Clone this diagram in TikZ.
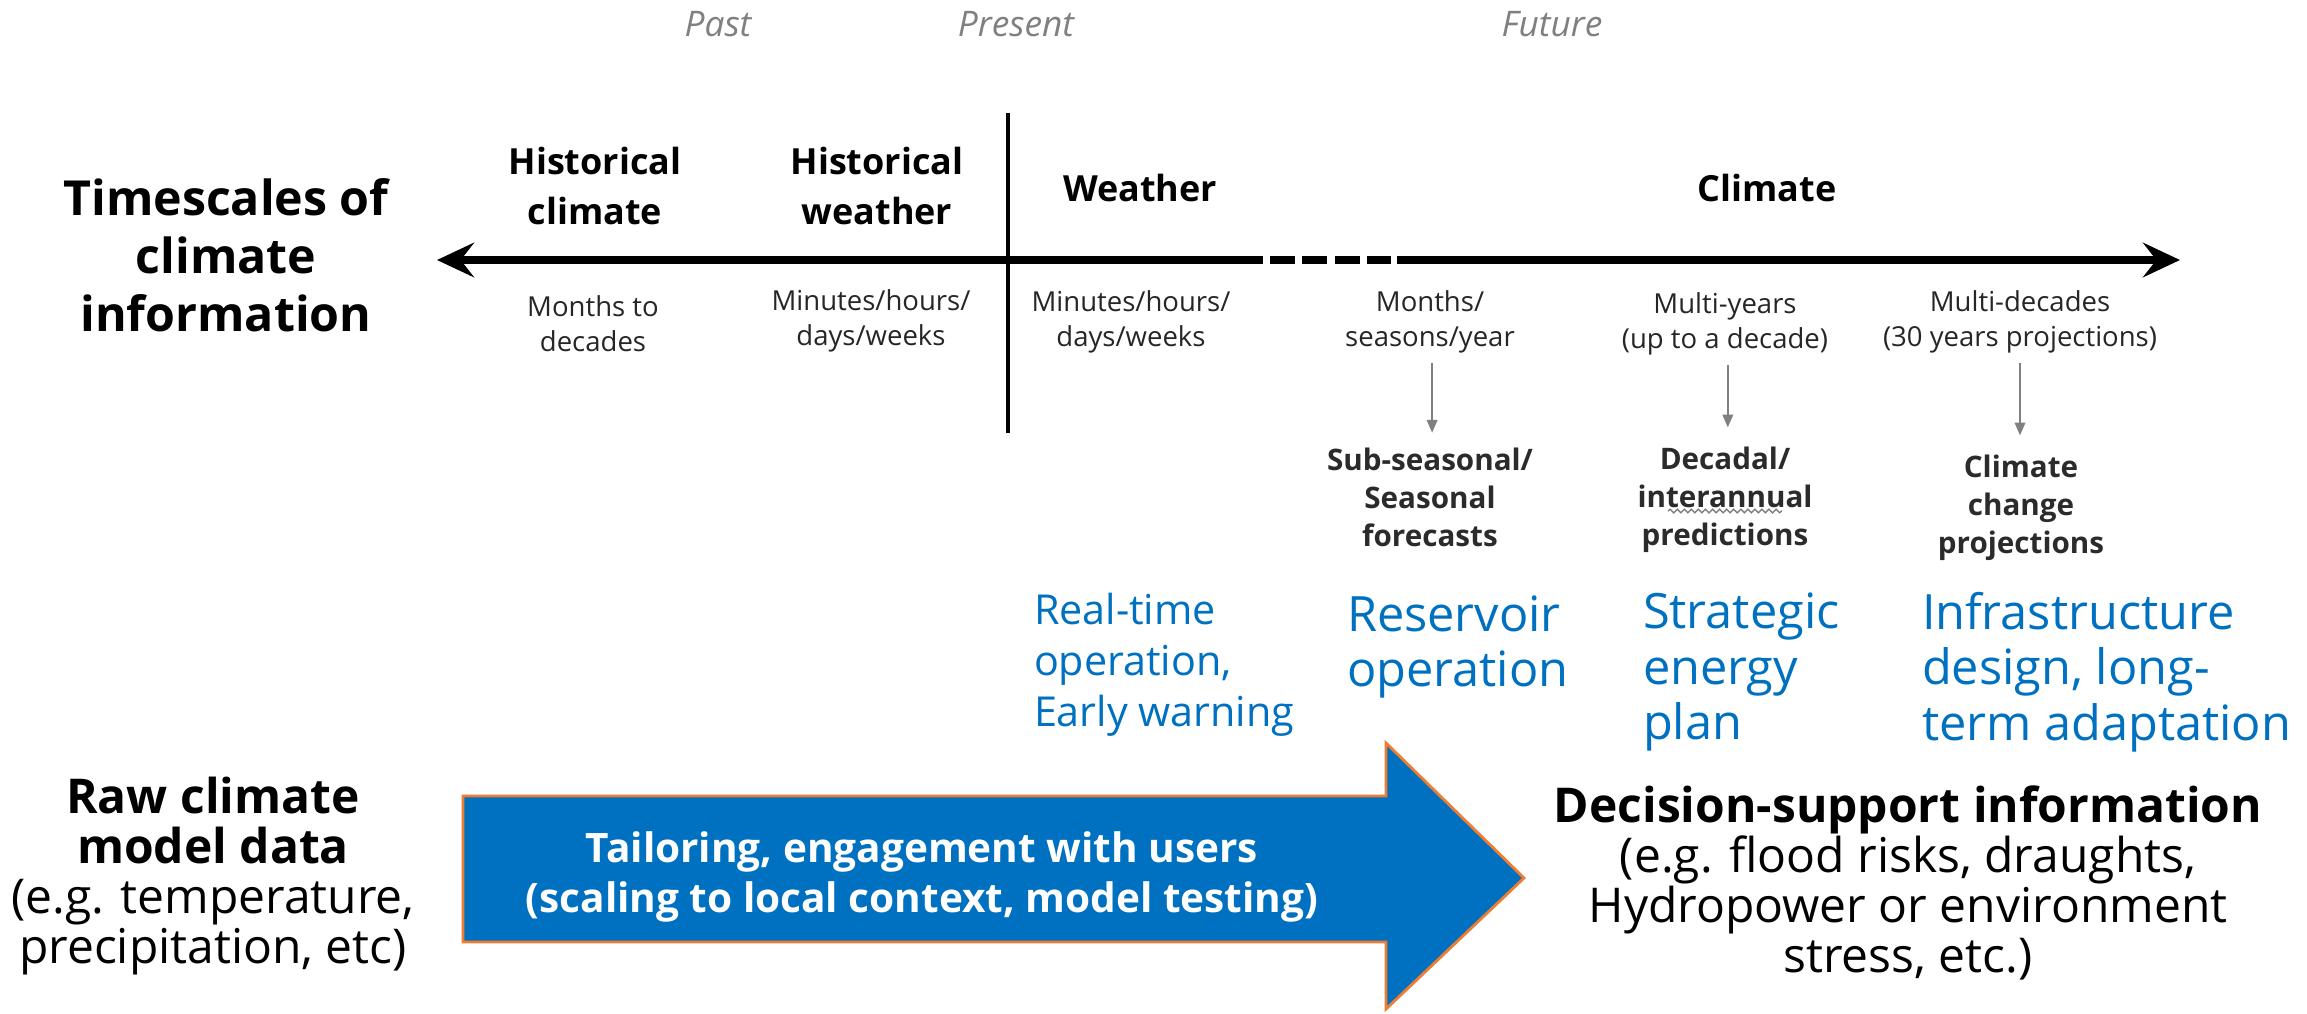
\documentclass[tikz,border=0pt]{standalone}
\usepackage{fontspec}
\setmainfont{Open Sans}
\usetikzlibrary{arrows.meta,decorations.pathmorphing}
\definecolor{myblue}{HTML}{0070C0}
\definecolor{myorange}{HTML}{ED7D31}
\definecolor{darkgraytxt}{HTML}{2B2B2B}
\definecolor{spantxt}{HTML}{262626}
\newcommand{\fs}[2]{\fontsize{#1}{#2}\selectfont}
\begin{document}
\begin{tikzpicture}[x=0.28349pt,y=-0.28349pt,
  every node/.style={inner sep=0pt, outer sep=0pt, align=center},
  era/.style={font=\fs{10}{12}\itshape, text=gray},
  hdr/.style={font=\fs{10.2}{14.2}\bfseries},
  span/.style={font=\fs{7.8}{9.9}, text=spantxt},
  prod/.style={font=\fs{8.4}{10.8}\bfseries, text=darkgraytxt},
  use/.style={font=\fs{13.8}{15.7}, text=myblue, align=left, anchor=west},
  small use/.style={font=\fs{11.7}{14.5}, text=myblue, align=left, anchor=west},
  side/.style={font=\fs{13.6}{14.2}},
  tline/.style={line width=2.3pt, >={Stealth[length=10.5pt,width=9.8pt,inset=3.8pt]}},
  garrow/.style={draw=gray, line width=0.5pt, -{Triangle[length=3.6pt,width=3pt]}, shorten <=2.8pt}
]
\useasboundingbox (0,0) rectangle (2307,1014);

% eras
\node[era] (past) at (718,24) {Past};
\node[era] (present) at (1016,24) {Present};
\node[era] (future) at (1552,24) {Future};

% left titles
\node[font=\fs{13.7}{16.5}\bfseries] (ts) at (226,255) {Timescales of\\climate\\information};
\node[side] (raw) at (213,876) {\textbf{Raw climate}\\\textbf{model data}\\(e.g. temperature,\\precipitation, etc)};

% headers
\node[hdr] (hc) at (595,186) {Historical\\climate};
\node[hdr] (hw) at (877,186) {Historical\\weather};
\node[hdr] (we) at (1140,188) {Weather};
\node[hdr] (cl) at (1767,188) {Climate};

% timeline
\coordinate (tl) at (437,260);
\coordinate (d0) at (1263,260);
\coordinate (d1) at (1270,260);
\coordinate (d2) at (1391,260);
\coordinate (d3) at (1397,260);
\coordinate (tr) at (2180,260);
\draw[tline, <-] (tl) -- (d0);
\draw[tline, dash pattern=on 7.09pt off 2.07pt] (d1) -- (d2);
\draw[tline, ->] (d3) -- (tr);
\coordinate (vt) at (1008,113);
\coordinate (vb) at (1008,433);
\draw[line width=1.4pt] (vt) -- (vb);

% spans
\node[span] (s1) at (593,324) {Months to\\decades};
\node[span] (s2) at (871,321) {Minutes/hours/\\days/weeks};
\node[span] (s3) at (1131,322) {Minutes/hours/\\days/weeks};
\node[span] (s4) at (1430,322) {Months/\\seasons/year};
\node[span] (s5) at (1725,324) {Multi-years\\(up to a decade)};
\node[span] (s6) at (2020,322) {Multi-decades\\(30 years projections)};

% products
\node[prod] (p1) at (1430,497) {Sub-seasonal/\\Seasonal\\forecasts};
\node[prod] (p2) at (1725,500) {Decadal/\\interannual\\predictions};
\node[prod] (p3) at (2021,508) {Climate\\change\\projections};
\coordinate (wl) at (1668,511);
\coordinate (wr) at (1782,511);
\draw[gray, line width=0.4pt, decorate, decoration={snake, amplitude=0.5pt, segment length=2pt}] (wl) -- (wr);

\draw[garrow, shorten >=4.2pt] ([xshift=0.6pt]s4.south) -- ([xshift=0.6pt]s4.south |- p1.north);
\draw[garrow, shorten >=5.6pt] ([xshift=0.8pt]s5.south) -- ([xshift=0.8pt]s5.south |- p2.north);
\draw[garrow, shorten >=5.6pt] (s6.south) -- (s6.south |- p3.north);

% uses
\node[small use] (u1) at (1034,665) {Real-time\\operation,\\Early warning};
\node[use] (u2) at (1347,647) {Reservoir\\operation};
\node[use] (u3) at (1643,672) {Strategic\\energy\\plan};
\node[use] (u4) at (1922,672) {Infrastructure\\design, long-\\term adaptation};

% big arrow
\fill[myblue, draw=myorange, line width=0.8pt]
  (463,796) -- (1386,796) -- (1386,743) -- (1524,878) -- (1386,1009) -- (1386,942) -- (463,942) -- cycle;
\node[font=\fs{11.5}{14.2}\bfseries, text=white] (tail) at (922,877) {Tailoring, engagement with users\\(scaling to local context, model testing)};

% decision
\node[side] (dec) at (1908,883) {\textbf{Decision-support information}\\(e.g. flood risks, draughts,\\Hydropower or environment\\stress, etc.)};
\end{tikzpicture}
\end{document}
